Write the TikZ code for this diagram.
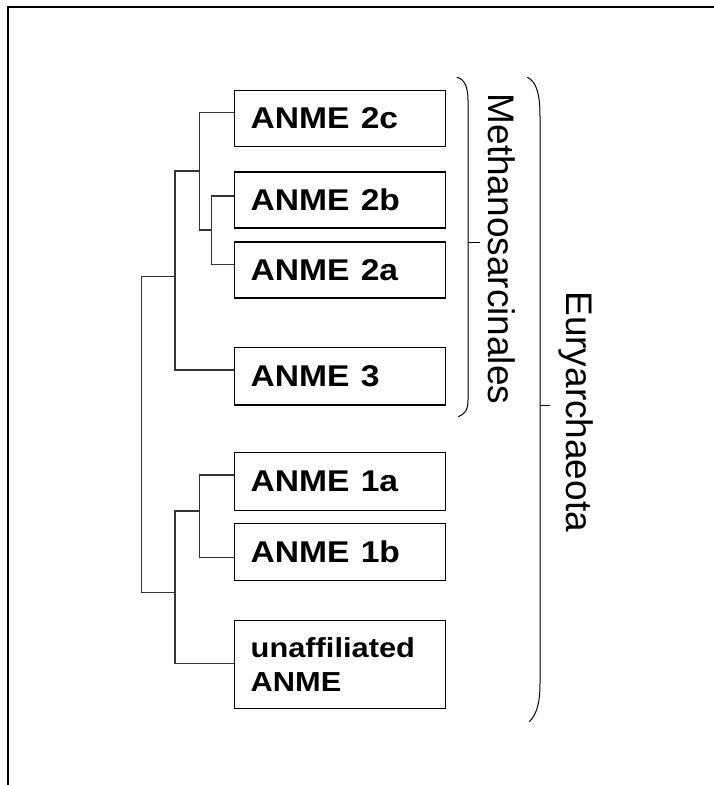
\documentclass[tikz,border=0pt]{standalone}
\usepackage{fontspec}
\setmainfont{Liberation Sans}
\usepackage{graphicx}
\newcommand\widen[1]{\scalebox{1.12}[1]{#1}}
\begin{document}
\begin{tikzpicture}[x=1pt,y=-1pt,
  taxon/.style={draw=black, line width=1.3pt, rectangle, minimum width=211pt,
    text width=178pt, inner xsep=16.5pt, inner ysep=0pt, align=left,
    minimum height=56pt, font=\bfseries\fontsize{30}{34}\selectfont},
  branch/.style={draw=black!80, line width=1.3pt},
  bracket/.style={draw=black, line width=1pt},
  clade/.style={font=\fontsize{37}{40}\selectfont, rotate=-90, anchor=base, inner sep=0pt}]
\useasboundingbox (0,0) rectangle (714,785);
\draw[line width=1.6pt] (8,785) -- (8,7) -- (714,7);

% taxa
\node[taxon] (b2c) at (339.7,118.2) {\widen{ANME 2c}};
\node[taxon] (b2b) at (339.7,200) {\widen{ANME 2b}};
\node[taxon] (b2a) at (339.7,270) {\widen{ANME 2a}};
\node[taxon, minimum height=57.5pt] (b3) at (339.7,376.2) {\widen{ANME 3}};
\node[taxon, minimum height=57.5pt] (b1a) at (339.7,481.4) {\widen{ANME 1a}};
\node[taxon, minimum height=57.5pt] (b1b) at (339.7,552) {\widen{ANME 1b}};
\node[taxon, minimum height=88pt, font=\bfseries\fontsize{27.5}{34.3}\selectfont] (bu) at (339.7,664.2)
  {\widen{unaffiliated}\\\widen{ANME}};

% junction points
\coordinate (v2ba) at (211.7,230);
\coordinate (v2) at (199.3,171);
\coordinate (vM) at (175,276.7);
\coordinate (v1) at (199.3,511);
\coordinate (vA) at (175,592.3);
\coordinate (r) at (141.7,434.5);

% tree
\draw[branch] ([yshift=4pt]b2b.west) -| (v2ba) |- ([yshift=5.7pt]b2a.west);
\draw[branch] ([yshift=5.9pt]b2c.west) -| (v2) |- (v2ba);
\draw[branch] (v2) -| (vM) |- ([yshift=6.2pt]b3.west);
\draw[branch] ([yshift=6.4pt]b1a.west) -| (v1) |- ([yshift=-5.3pt]b1b.west);
\draw[branch] (v1) -| (vA) |- ([yshift=0.9pt]bu.west);
\draw[branch] (vM) -| (r) |- (vA);

% brackets
\coordinate (mtip) at (480,242.7);
\coordinate (etip) at (550,405.7);
\draw[bracket] (456.7,77.3) .. controls (465,79) and (468,88) .. (468,100)
  -- (468,400) .. controls (468,410) and (465,414) .. (458.3,416.7);
\draw[bracket] (468,242.7) -- (mtip);
\draw[bracket] (527.3,77.3) .. controls (537,82) and (540,95) .. (540,116.7)
  -- (540,683.3) .. controls (540,705) and (536,715) .. (529.3,721.7);
\draw[bracket] (540,405.7) -- (etip);

% clade labels
\node[clade] (meth) at (488,249) {Methanosarcinales};
\node[clade] (eury) at (566.7,411.7) {Euryarchaeota};
\end{tikzpicture}
\end{document}
